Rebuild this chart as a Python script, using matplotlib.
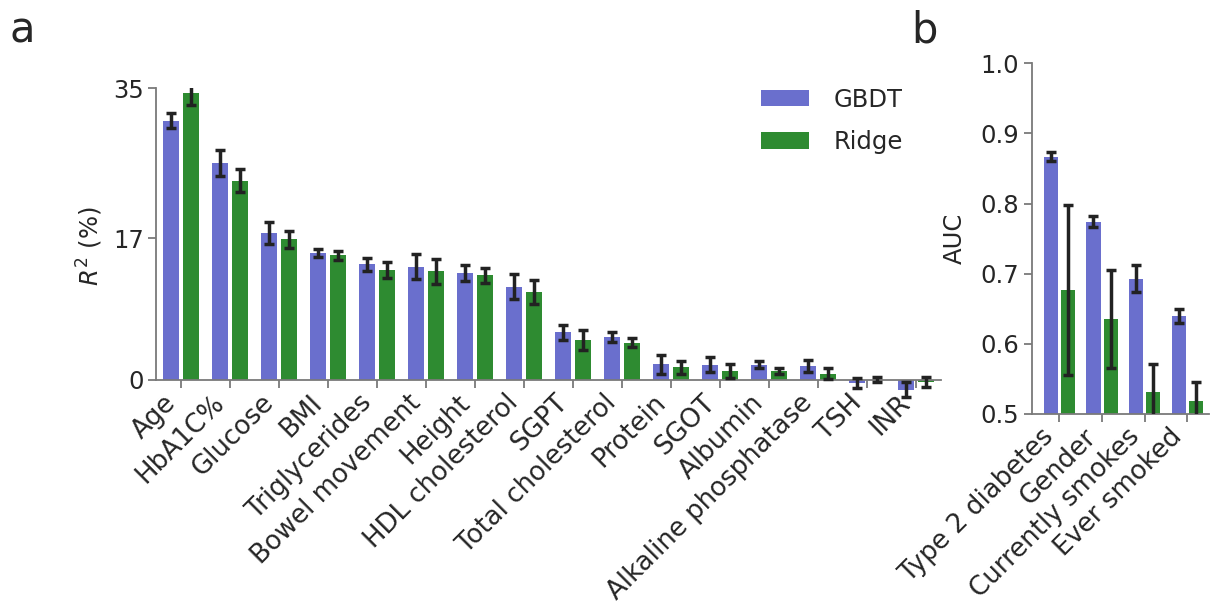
import matplotlib
matplotlib.use('Agg')
import matplotlib.pyplot as plt
import numpy as np

# regression targets: R^2 (%) with error
traits = ['Age', 'HbA1C%', 'Glucose', 'BMI', 'Triglycerides', 'Bowel movement',
          'Height', 'HDL cholesterol', 'SGPT', 'Total cholesterol', 'Protein',
          'SGOT', 'Albumin', 'Alkaline phosphatase', 'TSH', 'INR']
r2_gbdt = [31.1, 26.0, 17.6, 15.2, 13.85, 13.6, 12.8, 11.2, 5.7, 5.15, 1.9,
           1.85, 1.85, 1.7, -0.4, -1.2]
r2_gbdt_err = [0.9, 1.6, 1.3, 0.45, 0.8, 1.5, 0.95, 1.5, 0.9, 0.65, 1.15,
               0.9, 0.4, 0.7, 0.6, 0.9]
r2_ridge = [34.45, 23.9, 16.85, 14.95, 13.2, 13.05, 12.55, 10.5, 4.75, 4.45, 1.5,
            1.1, 1.05, 0.75, 0.0, -0.25]
r2_ridge_err = [1.45, 1.35, 1.0, 0.55, 0.95, 1.5, 0.9, 1.45, 1.2, 0.55, 0.8,
                0.85, 0.35, 0.65, 0.3, 0.55]

# binary targets: AUC with error
binary = ['Type 2 diabetes', 'Gender', 'Currently smokes', 'Ever smoked']
auc_gbdt = [0.867, 0.774, 0.693, 0.640]
auc_gbdt_err = [0.007, 0.008, 0.019, 0.010]
auc_ridge = [0.677, 0.635, 0.531, 0.518]
auc_ridge_err = [0.121, 0.070, 0.040, 0.028]

blue = '#6a6fcd'
green = '#2e8b31'
spine_col = '#7a7a7a'
text_col = '#262626'
fs = 17.5
xfs = 18.7

plt.rcParams['font.family'] = 'DejaVu Sans'
plt.rcParams['text.color'] = text_col
plt.rcParams['axes.labelcolor'] = text_col
plt.rcParams['xtick.color'] = text_col
plt.rcParams['ytick.color'] = text_col
plt.rcParams['mathtext.fontset'] = 'dejavusans'


def grouped_bars(ax, labels, v1, e1, v2, e2):
    x = np.arange(len(labels))
    w = 0.33
    ax.bar(x - 0.2, v1, w, color=blue, label='GBDT', zorder=2)
    ax.bar(x + 0.2, v2, w, color=green, label='Ridge', zorder=2)
    ax.errorbar(x - 0.2, v1, yerr=e1, fmt='none', ecolor='#222222',
                elinewidth=2.5, capsize=3.5, capthick=2.5, zorder=3)
    ax.errorbar(x + 0.2, v2, yerr=e2, fmt='none', ecolor='#222222',
                elinewidth=2.5, capsize=3.5, capthick=2.5, zorder=3)
    ax.set_xticks(x)
    ax.set_xticklabels(labels, rotation=45, ha='right', fontsize=xfs)
    for s in ['top', 'right']:
        ax.spines[s].set_visible(False)
    for s in ['left', 'bottom']:
        ax.spines[s].set_color(spine_col)
        ax.spines[s].set_linewidth(1.3)
    ax.tick_params(axis='both', length=6, width=1.3, color=spine_col, pad=3)
    ax.tick_params(axis='x', pad=1)
    ax.tick_params(axis='y', labelsize=fs)


fig = plt.figure(figsize=(12.1, 6.07), dpi=100)

ax1 = fig.add_axes([0.1293, 0.3328, 0.648, 0.5222])
# x axis sits on the zero line so negative bars hang below it
ax1.spines['bottom'].set_position(('data', 0))
grouped_bars(ax1, traits, r2_gbdt, r2_gbdt_err, r2_ridge, r2_ridge_err)
ax1.set_xlim(-0.5, 15.5)
ax1.set_ylim(-3, 35)
ax1.set_yticks([0, 17, 35])
ax1.spines['left'].set_bounds(0, 35)
ax1.set_ylabel('$R^2$ (%)', fontsize=fs, labelpad=6)
ax1.legend(loc='upper right', bbox_to_anchor=(0.98, 1.07), frameon=False,
           fontsize=fs, handlelength=2.0, handleheight=0.65,
           handletextpad=1.0, labelspacing=0.75)

ax2 = fig.add_axes([0.8526, 0.318, 0.1463, 0.5777])
grouped_bars(ax2, binary, auc_gbdt, auc_gbdt_err, auc_ridge, auc_ridge_err)
ax2.set_xlim(-0.65, 3.5)
ax2.set_ylim(0.5, 1.0)
ax2.set_yticks([0.5, 0.6, 0.7, 0.8, 0.9, 1.0])
ax2.set_ylabel('AUC', fontsize=fs, labelpad=10)

fig.text(0.008, 0.93, 'a', fontsize=30, color=text_col)
fig.text(0.753, 0.93, 'b', fontsize=30, color=text_col)

fig.savefig('out.png', dpi=100)
